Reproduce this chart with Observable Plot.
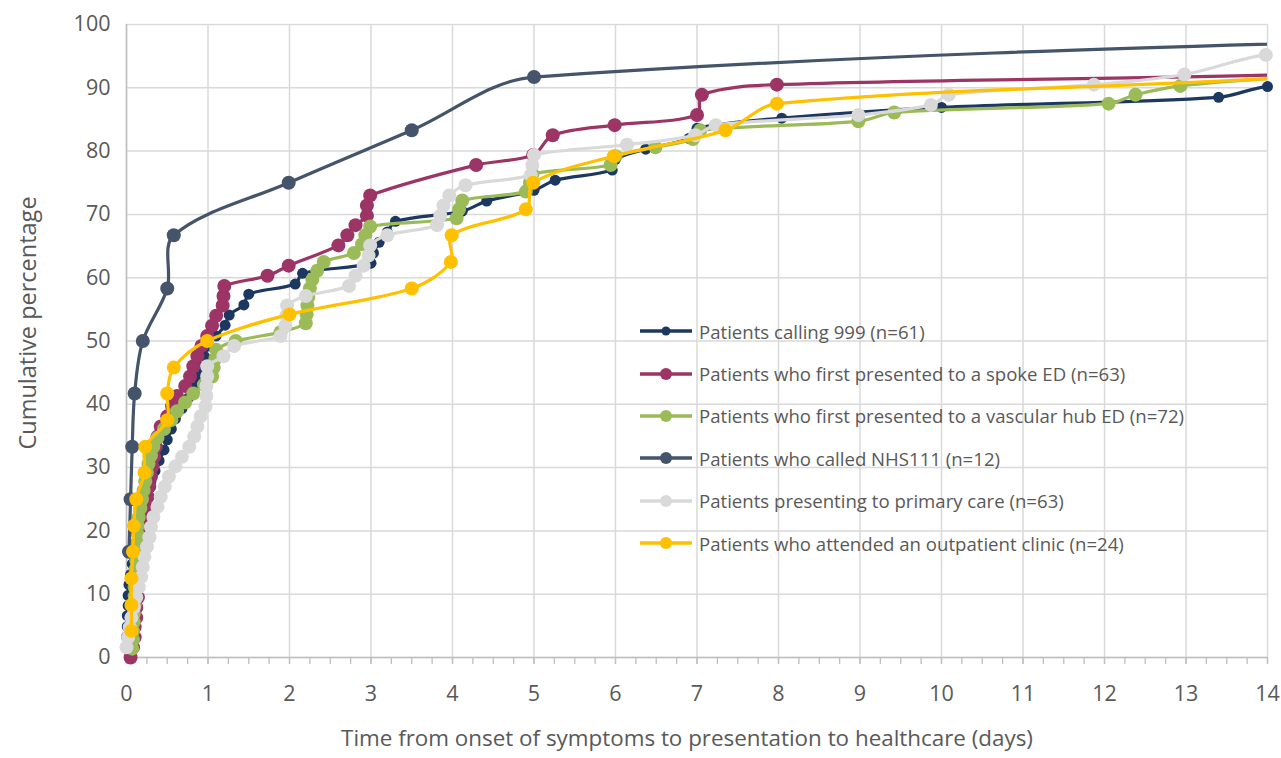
<!DOCTYPE html>
<html>
<head>
<meta charset="utf-8">
<script src="https://cdn.jsdelivr.net/npm/d3@7"></script>
<script src="https://cdn.jsdelivr.net/npm/@observablehq/plot@0.6"></script>
<style>
  body { margin: 0; background: #fff; }
  #wrap { position: relative; width: 1281px; height: 758px; font-family: 'Open Sans', sans-serif; }
  #legend { position: absolute; left: 640px; top: 310px; color: #595959; font-size: 18.6px; }
  .row { display: flex; align-items: center; height: 42.4px; white-space: nowrap; }
  .row svg { flex: none; }
  .row span { margin-left: 7px; }
</style>
</head>
<body>
<div id="wrap"></div>
<script>
// ---- Series labels and colours ----
const seriesNames = [
  "Patients calling 999 (n=61)",
  "Patients who first presented to a spoke ED (n=63)",
  "Patients who first presented to a vascular hub ED (n=72)",
  "Patients who called NHS111 (n=12)",
  "Patients presenting to primary care (n=63)",
  "Patients who attended an outpatient clinic (n=24)"
];
const seriesColors = ["#1c3760", "#9c3465", "#9bbb59", "#44546a", "#d9d9d9", "#ffc000"];
const markerRadius = [5.5, 7, 7, 7, 7, 7];

// ---- Data (days from symptom onset, cumulative %) ----
const calling999Days = [0.0,0.01,0.01,0.02,0.02,0.03,0.05,0.07,0.09,0.1,0.12,0.15,0.18,0.22,0.26,0.3,0.35,0.4,0.46,0.5,0.55,0.6,0.68,0.76,0.82,0.88,0.92,0.96,1.0,1.1,1.21,1.26,1.44,1.5,2.07,2.16,3.0,3.03,3.1,3.2,3.3,4.12,4.42,5.0,5.26,5.96,6.0,6.37,6.9,7.0,8.04,10.0,13.4,14.0,17];
const calling999Pct = [3.3,4.9,6.6,8.2,9.8,11.5,13.1,14.8,16.4,18.0,19.7,21.3,23.0,24.6,26.2,27.9,29.5,31.1,32.8,34.4,36.1,37.7,39.3,41.0,42.6,44.3,45.9,47.5,49.2,50.8,52.5,54.1,55.7,57.4,59.0,60.7,62.3,63.9,65.6,67.2,68.9,70.5,72.1,73.8,75.4,77.0,78.7,80.3,82.0,83.6,85.2,86.9,88.5,90.2,91.8];

const spokeDays = [0.05,0.08,0.1,0.1,0.12,0.12,0.14,0.14,0.15,0.17,0.18,0.19,0.2,0.21,0.22,0.24,0.26,0.28,0.3,0.32,0.34,0.36,0.38,0.42,0.5,0.56,0.62,0.72,0.78,0.82,0.87,0.92,0.99,1.05,1.1,1.18,1.19,1.2,1.73,1.99,2.6,2.71,2.81,2.95,2.95,2.99,4.29,4.99,5.23,5.99,7.0,7.06,7.98,14.3,20,30];
const spokePct = [0,1.6,3.2,4.8,6.3,7.9,9.5,11.1,12.7,14.3,15.9,17.5,19.0,20.6,22.2,23.8,25.4,27.0,28.6,30.2,31.7,33.3,34.9,36.5,38.1,39.7,41.3,42.9,44.4,46.0,47.6,49.2,50.8,52.4,54.0,55.6,57.1,58.7,60.3,61.9,65.1,66.7,68.3,69.8,71.4,73.0,77.8,79.4,82.5,84.1,85.7,88.9,90.5,92.1,95.2,100];

const hubDays = [0.07,0.08,0.08,0.09,0.09,0.1,0.1,0.1,0.11,0.11,0.12,0.12,0.13,0.14,0.14,0.15,0.17,0.19,0.21,0.23,0.25,0.27,0.3,0.33,0.38,0.46,0.55,0.62,0.72,0.82,0.95,1.05,1.07,1.09,1.1,1.34,1.89,2.2,2.21,2.22,2.23,2.25,2.28,2.34,2.42,2.79,2.89,2.93,2.99,4.05,4.08,4.12,4.9,4.95,4.98,5.94,6.0,6.49,6.95,7.04,8.98,9.42,12.05,12.38,12.93,14.3,20,30];
const hubPct = [1.4,2.8,4.2,5.6,6.9,8.3,9.7,11.1,12.5,13.9,15.3,16.7,18.1,19.4,20.8,22.2,23.6,25.0,26.4,27.8,29.2,30.6,31.9,33.3,34.7,36.1,37.5,38.9,40.3,41.7,43.1,44.4,45.8,47.2,48.6,50.0,51.4,52.8,54.2,55.6,56.9,58.3,59.7,61.1,62.5,63.9,65.3,66.7,68.1,69.4,70.8,72.2,73.6,75.0,76.4,77.8,79.2,80.6,81.9,83.3,84.7,86.1,87.5,88.9,90.3,91.7,95.8,100];

const nhs111Days = [0.03,0.05,0.07,0.1,0.2,0.5,0.58,1.99,3.5,5.0,22];
const nhs111Pct = [16.7,25.0,33.3,41.7,50.0,58.3,66.7,75.0,83.3,91.7,100];

const primaryDays = [0.0,0.02,0.04,0.06,0.09,0.12,0.15,0.18,0.2,0.22,0.25,0.28,0.3,0.33,0.38,0.42,0.47,0.52,0.6,0.68,0.77,0.83,0.87,0.91,0.97,0.98,0.98,0.99,0.99,1.19,1.32,1.89,1.95,1.96,1.97,2.2,2.73,2.81,2.91,2.97,2.99,3.2,3.81,3.85,3.89,3.96,4.16,4.96,4.98,5.0,6.14,6.98,7.23,8.98,9.87,10.09,11.87,12.98,13.98,16,25];
const primaryPct = [1.6,3.2,4.8,6.3,7.9,9.5,11.1,12.7,14.3,15.9,17.5,19.0,20.6,22.2,23.8,25.4,27.0,28.6,30.2,31.7,33.3,34.9,36.5,38.1,39.7,41.3,42.9,44.4,46.0,47.6,49.2,50.8,52.4,54.0,55.6,57.1,58.7,60.3,61.9,63.5,65.1,66.7,68.3,69.8,71.4,73.0,74.6,76.2,77.8,79.4,81.0,82.5,84.1,85.7,87.3,88.9,90.5,92.1,95.2,96.8,100];

const outpatientDays = [0.06,0.06,0.06,0.08,0.09,0.12,0.22,0.23,0.5,0.5,0.58,0.99,2.0,3.5,3.98,3.99,4.9,4.99,5.98,7.35,7.98,14.3,18,25];
const outpatientPct = [4.2,8.3,12.5,16.7,20.8,25.0,29.2,33.3,37.5,41.7,45.8,50.0,54.2,58.3,62.5,66.7,70.8,75.0,79.2,83.3,87.5,91.7,95.8,100];

// ---- Axis ticks and titles ----
const xTicks = [0,1,2,3,4,5,6,7,8,9,10,11,12,13,14];
const xMinorStep = 0.25;
const yTicks = [0,10,20,30,40,50,60,70,80,90,100];
const xTitle = "Time from onset of symptoms to presentation to healthcare (days)";
const yTitle = "Cumulative percentage";

const seriesDays = [calling999Days, spokeDays, hubDays, nhs111Days, primaryDays, outpatientDays];
const seriesPct = [calling999Pct, spokePct, hubPct, nhs111Pct, primaryPct, outpatientPct];

const rows = [];
seriesNames.forEach((name, s) => {
  seriesDays[s].forEach((d, i) => rows.push({series: name, day: d, pct: seriesPct[s][i]}));
});

const minorTicks = d3.range(0, 14 + 1e-9, xMinorStep);

// Spreadsheet-style smoothed line: Bezier segments whose control points follow
// the neighbouring points, with tangents scaled by the segment lengths (no loops).
function smoothCurve(context) {
  let pts = [];
  const dist = (a, b) => Math.hypot(b[0] - a[0], b[1] - a[1]);
  return {
    areaStart() {}, areaEnd() {},
    lineStart() { pts = []; },
    point(x, y) { pts.push([+x, +y]); },
    lineEnd() {
      const n = pts.length;
      if (!n) return;
      context.moveTo(pts[0][0], pts[0][1]);
      for (let i = 0; i < n - 1; i++) {
        const p0 = pts[Math.max(i - 1, 0)], p1 = pts[i], p2 = pts[i + 1], p3 = pts[Math.min(i + 2, n - 1)];
        const d01 = dist(p0, p1), d12 = dist(p1, p2), d23 = dist(p2, p3);
        const f1 = d01 + d12 > 0 ? d12 / (d01 + d12) / 3 : 0;
        const f2 = d12 + d23 > 0 ? d12 / (d12 + d23) / 3 : 0;
        context.bezierCurveTo(
          p1[0] + (p2[0] - p0[0]) * f1, p1[1] + (p2[1] - p0[1]) * f1,
          p2[0] - (p3[0] - p1[0]) * f2, p2[1] - (p3[1] - p1[1]) * f2,
          p2[0], p2[1]
        );
      }
    }
  };
}

const seriesMarks = seriesNames.flatMap((name, s) => {
  const data = rows.filter(r => r.series === name);
  return [
    Plot.line(data, {x: "day", y: "pct", stroke: seriesColors[s], strokeWidth: 3.2, curve: smoothCurve, clip: true}),
    Plot.dot(data.filter(r => r.day <= 14), {x: "day", y: "pct", fill: seriesColors[s], r: markerRadius[s]})
  ];
});

const chart = Plot.plot({
  width: 1281,
  height: 758,
  marginLeft: 126,
  marginRight: 14,
  marginTop: 24,
  marginBottom: 101,
  style: {fontFamily: "'Open Sans', sans-serif", background: "#fff", color: "#595959"},
  x: {domain: [0, 14], label: null},
  y: {domain: [0, 100], label: null},
  marks: [
    Plot.gridX(xTicks, {stroke: "#d9d9d9", strokeOpacity: 1, strokeWidth: 1.5}),
    Plot.gridY(yTicks, {stroke: "#d9d9d9", strokeOpacity: 1, strokeWidth: 1.5}),
    Plot.ruleX([0], {stroke: "#bfbfbf", strokeWidth: 1.5}),
    Plot.ruleY([0], {stroke: "#bfbfbf", strokeWidth: 1.5}),
    Plot.axisX(minorTicks, {tickSize: 7, tickFormat: () => "", stroke: "#bfbfbf", strokeWidth: 1.3, label: null}),
    Plot.axisX(xTicks, {tickSize: 7, tickPadding: 21, fontSize: 21.5, fill: "#595959", stroke: "#bfbfbf", strokeWidth: 1.3, label: null}),
    Plot.axisY(yTicks, {tickSize: 0, tickPadding: 16, fontSize: 21.5, fill: "#595959", label: null}),
    ...seriesMarks,
    Plot.text([xTitle], {text: d => d, frameAnchor: "bottom", dy: 88, dx: -10, fontSize: 22.4, fill: "#595959"}),
    Plot.text([yTitle], {text: d => d, frameAnchor: "left", textAnchor: "middle", rotate: -90, dx: -98, dy: -18, fontSize: 23.5, fill: "#595959"})
  ]
});

const wrap = document.getElementById("wrap");
wrap.appendChild(chart);

// ---- Legend (overlaid inside the plot area) ----
const legend = document.createElement("div");
legend.id = "legend";
seriesNames.forEach((name, s) => {
  const row = document.createElement("div");
  row.className = "row";
  const r = s === 0 ? 4.5 : 6;
  row.innerHTML = `<svg width="52" height="14"><line x1="0" x2="52" y1="7" y2="7" stroke="${seriesColors[s]}" stroke-width="3.5"/><circle cx="26" cy="7" r="${r}" fill="${seriesColors[s]}"/></svg><span>${name}</span>`;
  legend.appendChild(row);
});
wrap.appendChild(legend);
</script>
</body>
</html>
